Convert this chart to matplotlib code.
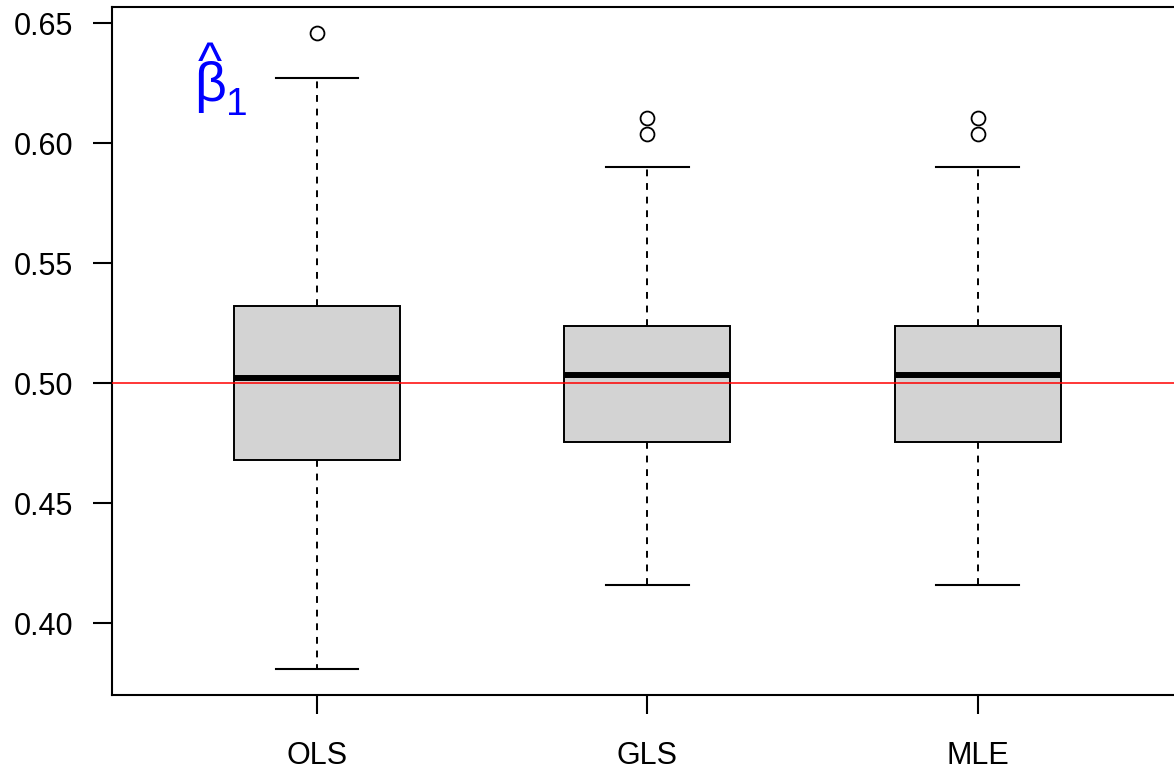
import matplotlib
matplotlib.use('Agg')
import matplotlib.pyplot as plt

plt.rcParams['font.family'] = ['Liberation Sans', 'DejaVu Sans']

# estimated values
metodos = ['OLS', 'GLS', 'MLE']
limite_inf = [0.3810, 0.4161, 0.4161]
q1 = [0.4680, 0.4755, 0.4755]
mediana = [0.5022, 0.5035, 0.5035]
q3 = [0.5322, 0.5239, 0.5239]
limite_sup = [0.6273, 0.5901, 0.5901]
outliers = [[0.6460], [0.6105, 0.6039], [0.6105, 0.6039]]
beta_real = 0.50

stats = []
for i in range(len(metodos)):
    stats.append({'label': metodos[i], 'whislo': limite_inf[i], 'q1': q1[i],
                  'med': mediana[i], 'q3': q3[i], 'whishi': limite_sup[i],
                  'fliers': outliers[i]})

fig = plt.figure(figsize=(11.74, 7.7), dpi=100)
ax = fig.add_axes([112/1174, 1 - 695/770, (1182.6 - 112)/1174, (695 - 7)/770])

ax.bxp(stats, positions=[1, 2, 3], widths=0.503, patch_artist=True,
       boxprops=dict(facecolor='#d3d3d3', edgecolor='black', linewidth=1.4),
       medianprops=dict(color='black', linewidth=4.3, solid_capstyle='butt'),
       whiskerprops=dict(color='black', linewidth=1.4, linestyle=(0, (3.5, 3.5))),
       capprops=dict(color='black', linewidth=1.5),
       capwidths=0.25,
       flierprops=dict(marker='o', markersize=10, markerfacecolor='none',
                       markeredgecolor='black', markeredgewidth=1.3))

ax.axhline(beta_real, color='red', linewidth=1.1, zorder=5)

ax.set_xlim(0.38, 3.62)
ax.set_ylim(0.3701, 0.6568)
ax.set_yticks([0.40, 0.45, 0.50, 0.55, 0.60, 0.65])
ax.set_yticklabels(['0.40', '0.45', '0.50', '0.55', '0.60', '0.65'])
ax.tick_params(axis='y', length=14, width=1.5, labelsize=22, pad=14)
ax.tick_params(axis='x', length=14, width=1.5, labelsize=22, pad=19)
for s in ax.spines.values():
    s.set_linewidth(1.5)

# beta chapeu com subscrito 1
ax.text(0.676, 0.6176, 'β', color='blue', fontsize=40, ha='center', va='baseline')
ax.annotate('1', xy=(0.676, 0.6176), xytext=(11.5, -10), textcoords='offset points',
            color='blue', fontsize=28, ha='left', va='baseline')
ax.annotate('^', xy=(0.676, 0.6176), xytext=(0, 16.5), textcoords='offset points',
            color='blue', fontsize=37, ha='center', va='baseline')

fig.savefig('out.png', dpi=100)
